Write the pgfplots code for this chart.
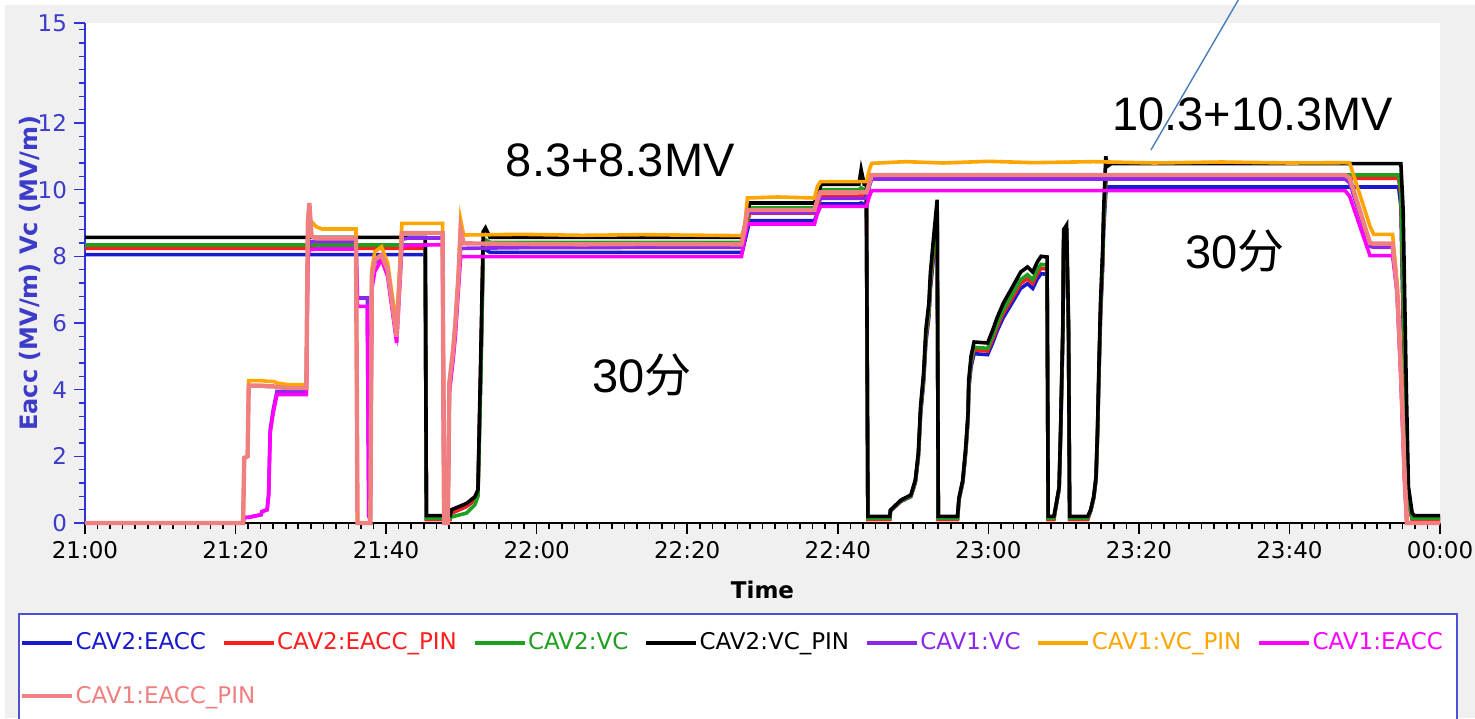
\documentclass[border=0pt]{standalone}
\usepackage{pgfplots}
\pgfplotsset{compat=1.18}
\usepackage{pgfplotstable}
\usepackage{fontspec}
\setmainfont{DejaVu Sans}
\newfontfamily\arial{Liberation Sans}
\newfontfamily\cjk{Noto Sans CJK SC}

\definecolor{cBlue}{RGB}{25,25,205}
\definecolor{cRed}{RGB}{255,30,30}
\definecolor{cGreen}{RGB}{30,160,30}
\definecolor{cBlack}{RGB}{0,0,0}
\definecolor{cPurple}{RGB}{140,40,235}
\definecolor{cOrange}{RGB}{255,165,0}
\definecolor{cMagenta}{RGB}{255,0,255}
\definecolor{cSalmon}{RGB}{240,128,128}
\definecolor{panel}{RGB}{240,240,240}
\definecolor{yaxisblue}{RGB}{50,50,220}
\definecolor{ylabelblue}{RGB}{60,60,200}
\definecolor{legframe}{RGB}{80,80,210}
\definecolor{callout}{RGB}{74,126,187}

% Cavity 2 channels (minutes after 21:00, MV/m)
\pgfplotstableread[row sep=\\]{
t blue red green black \\
0 8.05 8.24 8.34 8.57 \\
45.2 8.05 8.24 8.34 8.57 \\
45.35 0.12 0.10 0.15 0.22 \\
48.5 0.12 0.10 0.15 0.22 \\
48.7 0.30 0.30 0.18 0.40 \\
50.7 0.50 0.50 0.30 0.59 \\
51.8 0.70 0.72 0.55 0.79 \\
52.2 0.90 0.92 0.80 1.00 \\
52.6 4.8 5.0 4.5 5.3 \\
52.9 8.2 8.4 8.2 8.74 \\
53.2 8.2 8.4 8.5 8.85 \\
53.8 8.12 8.28 8.42 8.57 \\
87.3 8.12 8.28 8.42 8.57 \\
87.8 8.60 8.80 8.90 9.10 \\
88.3 9.07 9.30 9.45 9.60 \\
96.9 9.07 9.30 9.45 9.60 \\
97.4 9.35 9.55 9.70 9.90 \\
97.8 9.57 9.80 10.00 10.16 \\
102.8 9.57 9.80 10.00 10.16 \\
103.1 9.60 9.85 10.05 10.60 \\
103.5 9.57 9.80 10.00 10.16 \\
103.8 9.57 9.80 10.00 10.16 \\
104.0 0.12 0.10 0.15 0.20 \\
106.9 0.12 0.10 0.15 0.20 \\
107.0 0.36 0.37 0.38 0.39 \\
108.4 0.65 0.66 0.67 0.69 \\
109.7 0.79 0.80 0.81 0.84 \\
110.3 1.21 1.23 1.25 1.29 \\
110.7 1.96 2.01 2.04 2.10 \\
111.0 3.27 3.34 3.40 3.50 \\
111.4 4.21 4.30 4.37 4.50 \\
111.7 5.42 5.54 5.63 5.80 \\
112.1 6.17 6.30 6.40 6.60 \\
112.3 7.01 7.16 7.28 7.50 \\
112.7 7.95 8.12 8.25 8.50 \\
113.2 9.07 9.26 9.41 9.70 \\
113.35 0.12 0.10 0.15 0.20 \\
115.9 0.12 0.10 0.15 0.20 \\
116.1 0.70 0.72 0.73 0.75 \\
116.6 1.21 1.23 1.25 1.29 \\
117.0 2.13 2.18 2.21 2.28 \\
117.3 3.09 3.15 3.20 3.30 \\
117.4 4.02 4.11 4.17 4.30 \\
117.7 4.68 4.78 4.85 5.00 \\
118.1 5.08 5.19 5.27 5.43 \\
119.9 5.05 5.16 5.24 5.40 \\
120.6 5.42 5.54 5.63 5.80 \\
121.2 5.78 5.90 5.99 6.18 \\
122.0 6.17 6.30 6.40 6.60 \\
123.2 6.62 6.76 6.87 7.08 \\
124.3 7.04 7.19 7.30 7.53 \\
125.2 7.18 7.33 7.45 7.68 \\
125.9 7.04 7.19 7.30 7.53 \\
126.5 7.32 7.48 7.60 7.83 \\
127.0 7.48 7.64 7.76 8.00 \\
127.8 7.46 7.62 7.74 7.98 \\
127.95 0.12 0.10 0.15 0.20 \\
128.7 0.12 0.10 0.15 0.20 \\
129.0 0.51 0.53 0.53 0.55 \\
129.4 1.01 1.03 1.05 1.08 \\
129.6 2.62 2.67 2.72 2.80 \\
129.9 5.61 5.73 5.82 6.00 \\
130.0 8.23 8.40 8.54 8.80 \\
130.4 8.36 8.54 8.67 8.94 \\
130.65 5.61 5.73 5.82 6.00 \\
130.8 0.12 0.10 0.15 0.20 \\
133.2 0.12 0.10 0.15 0.20 \\
133.6 0.37 0.38 0.39 0.40 \\
134.0 0.75 0.76 0.78 0.80 \\
134.3 1.29 1.32 1.34 1.38 \\
134.5 2.62 2.67 2.72 2.80 \\
134.7 4.49 4.58 4.66 4.80 \\
134.9 6.17 6.30 6.40 6.60 \\
135.2 7.76 7.93 8.05 8.30 \\
135.3 8.70 8.88 9.02 9.30 \\
135.6 9.90 10.20 10.30 11.00 \\
135.8 10.08 10.34 10.44 10.70 \\
136.3 10.08 10.34 10.44 10.78 \\
174.5 10.08 10.34 10.44 10.78 \\
174.8 9.50 9.80 10.00 10.78 \\
175.1 6.00 6.50 7.00 9.40 \\
175.5 2.50 3.00 3.20 4.30 \\
175.8 0.60 0.70 0.80 1.10 \\
176.3 0.12 0.10 0.15 0.30 \\
176.6 0.12 0.10 0.15 0.22 \\
180 0.12 0.10 0.15 0.22 \\
}\cavtwo

% Cavity 1 channels (minutes after 21:00, MV/m)
\pgfplotstableread[row sep=\\]{
t purple orange magenta salmon \\
0 0 0 0 0 \\
21.0 0 0 0 0 \\
21.15 0.17 1.95 0.17 1.95 \\
21.6 0.17 2.0 0.17 2.0 \\
21.75 0.17 4.27 0.17 4.12 \\
23.4 0.25 4.27 0.25 4.12 \\
23.5 0.34 4.27 0.34 4.12 \\
24.2 0.40 4.25 0.40 4.10 \\
24.4 0.90 4.25 0.84 4.10 \\
24.6 2.8 4.25 2.7 4.10 \\
25.0 3.4 4.25 3.3 4.10 \\
25.5 3.95 4.20 3.85 4.08 \\
27.0 3.95 4.15 3.85 4.05 \\
29.4 3.95 4.15 3.85 4.05 \\
29.6 8.0 8.6 7.9 9.0 \\
29.8 8.44 9.04 8.2 9.6 \\
30.1 8.44 9.04 8.2 8.6 \\
30.7 8.44 8.89 8.22 8.54 \\
31.5 8.44 8.82 8.22 8.54 \\
36.0 8.44 8.82 8.22 8.54 \\
36.2 6.75 0 6.5 0 \\
37.5 6.75 0 6.5 0 \\
37.7 0.2 0 0.2 0 \\
37.9 0.2 0 0.2 0 \\
38.1 7.2 7.6 7.0 7.4 \\
38.5 7.8 8.14 7.55 7.9 \\
39.4 8.0 8.29 7.9 8.04 \\
40.2 7.6 7.8 7.4 7.6 \\
41.4 5.8 5.9 5.4 5.59 \\
42.1 8.51 8.99 8.29 8.69 \\
43.0 8.55 8.99 8.33 8.70 \\
47.5 8.55 8.99 8.35 8.70 \\
47.7 0.2 0 0.2 0 \\
48.2 0.2 0 0.2 0 \\
48.4 4.0 4.19 3.9 4.19 \\
48.9 5.0 5.2 4.9 5.2 \\
49.2 5.8 6.0 5.6 6.0 \\
49.6 7.2 7.39 7.0 7.39 \\
49.9 8.24 9.09 7.99 8.79 \\
50.3 8.24 8.64 7.99 8.39 \\
58.0 8.26 8.66 7.99 8.37 \\
66.0 8.26 8.63 7.99 8.36 \\
74.0 8.27 8.65 7.99 8.37 \\
87.2 8.27 8.62 7.99 8.36 \\
87.6 8.6 8.85 8.5 8.8 \\
88.0 9.31 9.75 8.97 9.39 \\
92.0 9.31 9.78 8.97 9.39 \\
96.9 9.31 9.75 8.97 9.39 \\
97.3 9.6 10.1 9.3 9.7 \\
97.7 9.74 10.24 9.5 9.92 \\
103.8 9.74 10.24 9.5 9.92 \\
104.2 10.1 10.6 9.8 10.2 \\
104.5 10.32 10.79 9.97 10.44 \\
109.0 10.32 10.84 9.97 10.44 \\
114.0 10.32 10.80 9.97 10.44 \\
120.0 10.32 10.85 9.97 10.44 \\
126.0 10.32 10.81 9.97 10.44 \\
134.0 10.32 10.84 9.97 10.44 \\
142.0 10.32 10.80 9.97 10.44 \\
151.0 10.32 10.83 9.97 10.44 \\
160.0 10.32 10.80 9.97 10.44 \\
167.4 10.32 10.81 9.97 10.44 \\
168.0 10.2 10.8 9.8 10.35 \\
170.7 8.3 8.9 8.02 8.4 \\
171.2 8.27 8.66 8.02 8.38 \\
173.7 8.27 8.66 8.02 8.38 \\
174.3 6.9 7.2 6.9 7.0 \\
174.8 4.5 4.8 4.3 4.6 \\
175.3 1.3 1.5 1.2 1.4 \\
175.6 0 0 0 0 \\
180 0 0 0 0 \\
}\cavone

\begin{document}
\begin{tikzpicture}
\useasboundingbox (-42.5pt,-97.5pt) rectangle (695pt,261.5pt);
\clip (-42.5pt,-97.5pt) rectangle (695pt,261.5pt);
\fill[white] (-42.5pt,-97.5pt) rectangle (695pt,261.5pt);
\fill[panel] (-40pt,-97.5pt) rectangle (695pt,259pt);
\filldraw[fill=white, draw=legframe, line width=0.8pt] (-33pt,-45.5pt) rectangle (686pt,-110pt);
\begin{axis}[
  at={(0,0)}, anchor=south west,
  scale only axis, width=677.5pt, height=250pt,
  xmin=0, xmax=180, ymin=0, ymax=15,
  axis x line*=bottom, axis y line*=left,
  x axis line style={black, line width=1pt, -},
  y axis line style={yaxisblue, line width=1pt, -},
  axis background/.style={fill=white},
  xtick={0,20,...,180},
  xticklabels={21:00,21:20,21:40,22:00,22:20,22:40,23:00,23:20,23:40,00:00},
  minor x tick num=11,
  ytick={0,2,4,6,8,10,12,15},
  yticklabels={0,2,4,6,8,10,12,15},
  minor ytick={0,0.4,...,14.9},
  tick align=outside,
  major tick length=5.5pt, minor tick length=3pt,
  xtick style={black, line width=0.8pt},
  ytick style={yaxisblue, line width=0.8pt},
  tick label style={font=\fontsize{11.5}{13}\selectfont},
  yticklabel style={text=ylabelblue},
  xlabel={Time},
  xlabel style={font=\bfseries\fontsize{11.5}{13}\selectfont, at={(axis description cs:0.5,-0.134)}, anchor=center},
  ylabel={Eacc (MV/m) Vc (MV/m)},
  ylabel style={font=\bfseries\fontsize{12}{14}\selectfont, text=ylabelblue, at={(axis description cs:-0.0406,0.5)}, anchor=center},
  clip=false,
  legend columns=7,
  legend cell align=left,
  legend image code/.code={\draw[#1, line width=1.6pt] (0pt,0pt) -- (25pt,0pt);},
  legend style={at={(-0.048,-0.215)}, anchor=north west, draw=none, fill=none,
    inner sep=0pt, row sep=14.5pt,
    font=\fontsize{11.5}{13}\selectfont,
    nodes={inner sep=1pt},
    /tikz/every even column/.append style={column sep=7pt}},
]
\addplot[cBlue, line width=1.8pt] table[x=t, y=blue] {\cavtwo};
\addlegendentry{\textcolor{cBlue}{CAV2:EACC}}
\addplot[cRed, line width=1.8pt] table[x=t, y=red] {\cavtwo};
\addlegendentry{\textcolor{cRed}{CAV2:EACC\_PIN}}
\addplot[cGreen, line width=1.8pt] table[x=t, y=green] {\cavtwo};
\addlegendentry{\textcolor{cGreen}{CAV2:VC}}
\addplot[cBlack, line width=1.8pt] table[x=t, y=black] {\cavtwo};
\addlegendentry{\textcolor{cBlack}{CAV2:VC\_PIN}}
\addplot[cPurple, line width=1.8pt] table[x=t, y=purple] {\cavone};
\addlegendentry{\textcolor{cPurple}{CAV1:VC}}
\addplot[cOrange, line width=1.8pt] table[x=t, y=orange] {\cavone};
\addlegendentry{\textcolor{cOrange}{CAV1:VC\_PIN}}
\addplot[cMagenta, line width=1.8pt] table[x=t, y=magenta] {\cavone};
\addlegendentry{\textcolor{cMagenta}{CAV1:EACC}}
\addplot[cSalmon, line width=2.2pt] table[x=t, y=salmon] {\cavone};
\addlegendentry{\makebox[0pt][l]{\textcolor{cSalmon}{CAV1:EACC\_PIN}}}

\node[font=\arial\fontsize{23.5}{28}\selectfont] at (axis cs:71.1,10.89) {8.3+8.3MV};
\node[font=\arial\fontsize{23.5}{28}\selectfont] at (axis cs:74.0,4.44) {30{\cjk 分}};
\node[font=\arial\fontsize{23.5}{28}\selectfont] at (axis cs:155.1,12.26) {10.3+10.3MV};
\node[font=\arial\fontsize{23.5}{28}\selectfont] at (axis cs:152.8,8.16) {30{\cjk 分}};
\draw[callout, line width=0.7pt] (axis cs:141.6,11.19) -- (axis cs:153.2,15.69);
\end{axis}
\end{tikzpicture}
\end{document}
